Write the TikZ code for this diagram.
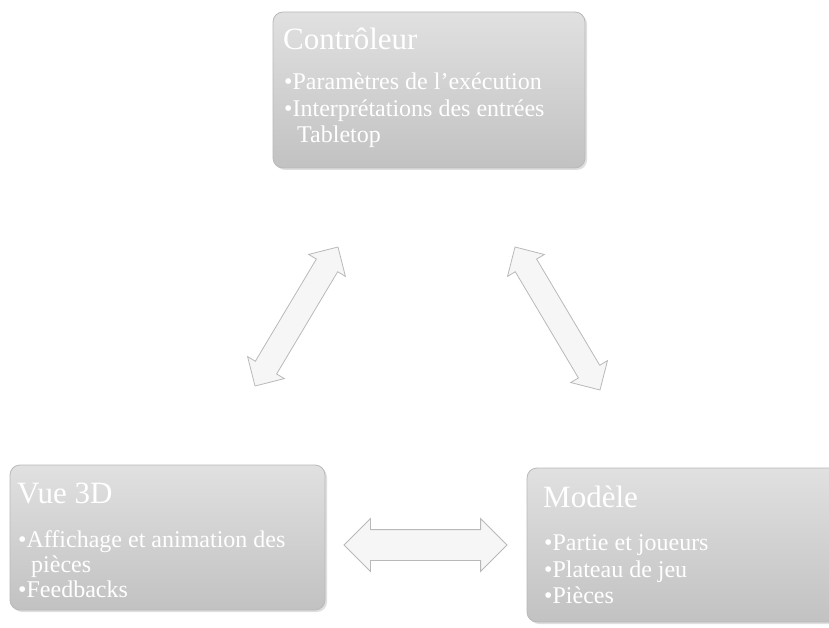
\documentclass[tikz,border=0pt]{standalone}
\usepackage{fontspec}
\setmainfont{Liberation Serif}
\usetikzlibrary{shapes.arrows,shadows,calc}
\begin{document}
\begin{tikzpicture}[x=1pt,y=-1pt,
  box/.style={rounded corners=10pt, top color=gray!24, bottom color=gray!48, draw=gray!55, line width=0.8pt,
    drop shadow={opacity=0.25, shadow xshift=2pt, shadow yshift=-2pt}},
  ttl/.style={anchor=base west, inner sep=0pt, text=white, font=\fontsize{31}{34}\selectfont},
  itm/.style={anchor=base west, inner sep=0pt, text=white, font=\fontsize{24}{27}\selectfont},
  fat/.style={double arrow, draw=gray!55, fill=gray!7, line width=0.8pt, inner xsep=0pt, inner ysep=12pt,
    double arrow head extend=9pt, double arrow tip angle=90, minimum width=0pt}
]
\useasboundingbox (0,0) rectangle (829,628);
% boxes
\path[box] (273,12) rectangle (585,168);
\node[inner sep=0pt] (ctrl) at (429,90) {};
\path[box] (10,465) rectangle (325,610);
\node[inner sep=0pt] (vue) at (167,537) {};
\path[box] (527,468) rectangle (850,622);
\node[inner sep=0pt] (mod) at (688,545) {};
% texts
\node[ttl] (t1) at (283,50) {Contrôleur};
\node[itm] (c1) at (284,90) {•Paramètres de l'exécution};
\node[itm] (c2) at (284,117) {•Interprétations des entrées};
\node[itm] (c3) at (297,143) {Tabletop};
\node[ttl] (t2) at (17,503) {Vue 3D};
\node[itm] (v1) at (18,547) {•Affichage et animation des};
\node[itm] (v2) at (31,572) {pièces};
\node[itm] (v3) at (18,597) {•Feedbacks};
\node[ttl] (t3) at (543,507) {Modèle};
\node[itm] (m1) at (544,550) {•Partie et joueurs};
\node[itm] (m2) at (544,577) {•Plateau de jeu};
\node[itm] (m3) at (544,603) {•Pièces};
% arrow endpoints
\coordinate (a1) at (338,247);
\coordinate (a2) at (255,386);
\coordinate (b1) at (515,247);
\coordinate (b2) at (600,390);
\coordinate (h1) at (344,545);
\coordinate (h2) at (507,545);
\path let \p1=($(a2)-(a1)$), \n1={atan2(\y1,\x1)}, \n2={veclen(\x1,\y1)} in
  node[fat, rotate=\n1, minimum height=\n2] (arrL) at ($(a1)!0.5!(a2)$) {};
\path let \p1=($(b2)-(b1)$), \n1={atan2(\y1,\x1)}, \n2={veclen(\x1,\y1)} in
  node[fat, rotate=\n1, minimum height=\n2] (arrR) at ($(b1)!0.5!(b2)$) {};
\path let \p1=($(h2)-(h1)$), \n2={veclen(\x1,\y1)} in
  node[fat, minimum height=\n2, inner ysep=15pt, double arrow head extend=11pt] (arrH) at ($(h1)!0.5!(h2)$) {};
\end{tikzpicture}
\end{document}
